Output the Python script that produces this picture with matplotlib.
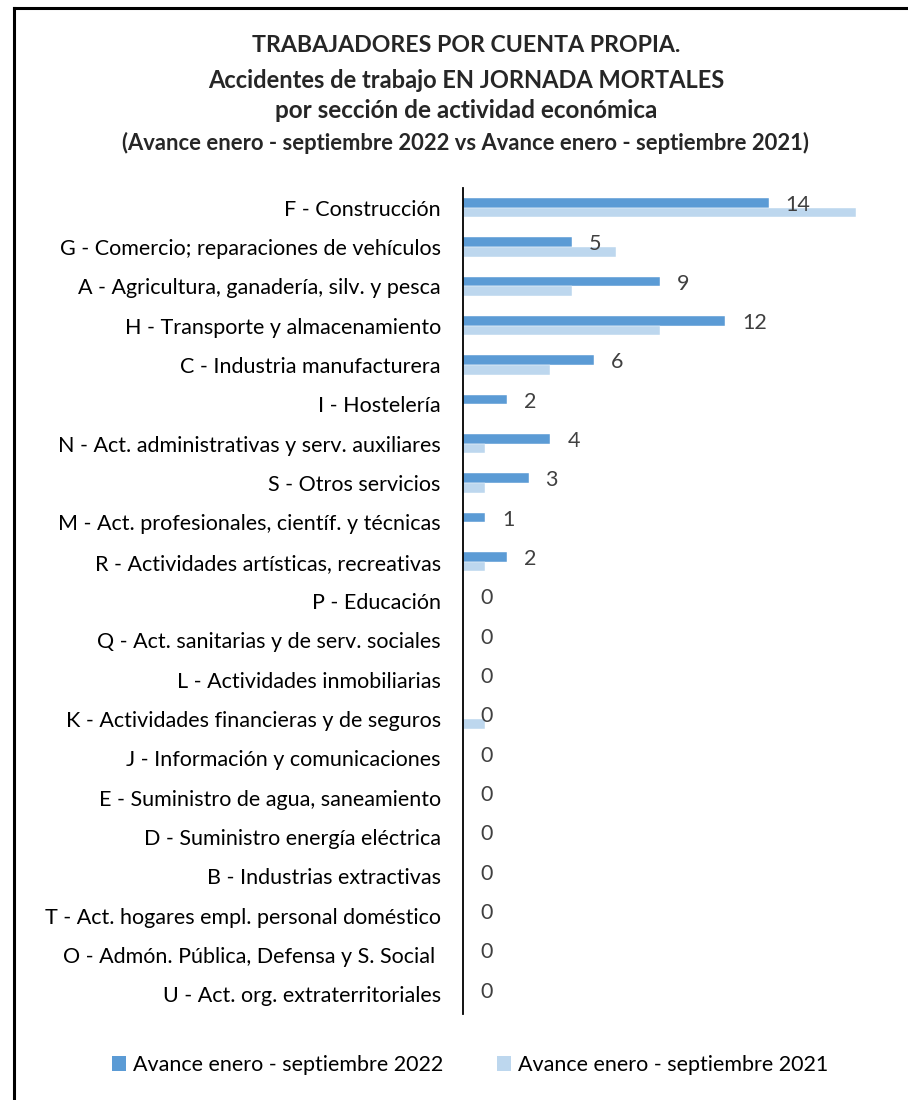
import matplotlib
matplotlib.use("Agg")
import matplotlib.pyplot as plt
from matplotlib.patches import Patch
from matplotlib.lines import Line2D

plt.rcParams['font.family'] = ['Lato', 'DejaVu Sans']

categories = [
    "F - Construcción",
    "G - Comercio; reparaciones de vehículos",
    "A - Agricultura, ganadería, silv. y pesca",
    "H - Transporte y almacenamiento",
    "C - Industria manufacturera",
    "I - Hostelería",
    "N - Act. administrativas y serv. auxiliares",
    "S - Otros servicios",
    "M - Act. profesionales, científ. y técnicas",
    "R - Actividades artísticas, recreativas",
    "P - Educación",
    "Q - Act. sanitarias y de serv. sociales",
    "L - Actividades inmobiliarias",
    "K - Actividades financieras y de seguros",
    "J - Información y comunicaciones",
    "E - Suministro de agua, saneamiento",
    "D - Suministro energía eléctrica",
    "B - Industrias extractivas",
    "T - Act. hogares empl. personal doméstico",
    "O - Admón. Pública, Defensa y S. Social ",
    "U - Act. org. extraterritoriales",
]
values_2022 = [14, 5, 9, 12, 6, 2, 4, 3, 1, 2, 0, 0, 0, 0, 0, 0, 0, 0, 0, 0, 0]
values_2021 = [18, 7, 5, 9, 4, 0, 1, 1, 0, 1, 0, 0, 0, 1, 0, 0, 0, 0, 0, 0, 0]
series_names = ["Avance enero - septiembre 2022", "Avance enero - septiembre 2021"]
title_lines = [
    "TRABAJADORES POR CUENTA PROPIA.",
    "Accidentes de trabajo EN JORNADA MORTALES",
    "por sección de actividad económica",
    "(Avance enero - septiembre 2022 vs Avance enero - septiembre 2021)",
]

c22 = "#5B9BD5"
c21 = "#BDD7EE"

W, H = 908, 1100
fig = plt.figure(figsize=(W / 100, H / 100), dpi=100)

# frame lines (left and top)
fig.add_artist(Line2D([13.5 / W, 13.5 / W], [0, 1 - 8 / H], color="black", lw=2.2,
                      transform=fig.transFigure))
fig.add_artist(Line2D([13.5 / W, 1], [1 - 8 / H, 1 - 8 / H], color="black", lw=2.2,
                      transform=fig.transFigure))

n = len(categories)
ax_left = 463 / W
ax_top = 1 - 188 / H
ax_bottom = 1 - 1014 / H
ax_right = 878 / W
ax = fig.add_axes([ax_left, ax_bottom, ax_right - ax_left, ax_top - ax_bottom])

ys = list(range(n))
h = 0.245
ax.barh([y - h / 2 for y in ys], values_2022, height=h, color=c22, edgecolor="white", linewidth=0.3)
ax.barh([y + h / 2 for y in ys], values_2021, height=h, color=c21, edgecolor="white", linewidth=0.3)

for y, v in zip(ys, values_2022):
    ax.annotate(str(v), xy=(v, y - h / 2), xytext=(17, -2), textcoords="offset pixels",
                ha="left", va="center", fontsize=15.5, color="#404040")

ax.set_xlim(0, 19)
ax.set_ylim(n - 0.5, -0.5)
ax.set_yticks(ys)
ax.set_yticklabels(categories, fontsize=15.5, color="black")
ax.tick_params(axis="y", length=0, pad=16)
ax.set_xticks([])
for s in ["top", "right", "bottom"]:
    ax.spines[s].set_visible(False)
ax.spines["left"].set_linewidth(1.3)
ax.spines["left"].set_color("black")

# title
tys = [46, 80, 111, 143]
tsz = [16.7, 17, 17.5, 15.8]
for t, ty, sz in zip(title_lines, tys, tsz):
    fig.text(466 / W, 1 - ty / H, t, ha="center", va="center", fontsize=sz,
             fontweight="bold", color="#262626")

handles = [Patch(facecolor=c22, edgecolor="none"), Patch(facecolor=c21, edgecolor="none")]
fig.legend(handles, series_names, loc="center", bbox_to_anchor=(470 / W, 1 - 1065 / H),
           ncol=2, frameon=False, fontsize=15.5, handlelength=0.65, handleheight=0.65,
           handletextpad=0.33, columnspacing=2.5)

fig.savefig("out.png", dpi=100)
